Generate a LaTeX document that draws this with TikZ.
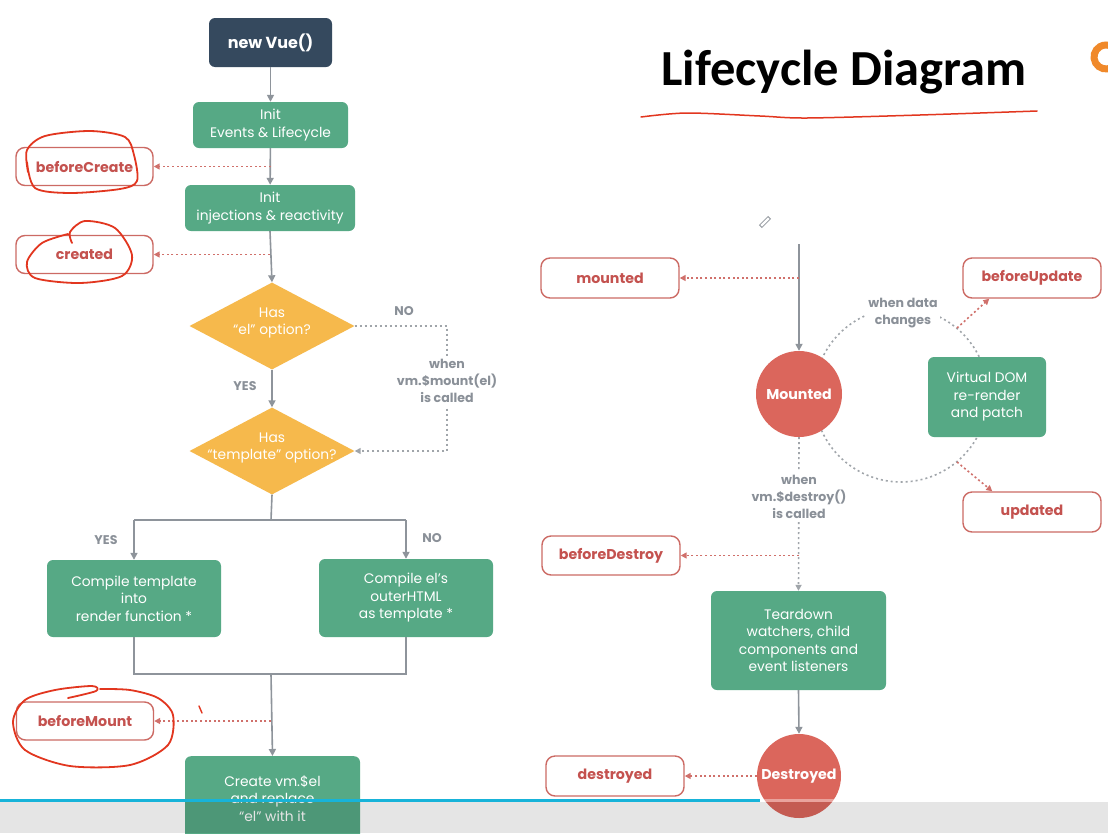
\documentclass[tikz,border=0pt]{standalone}
\usepackage{fontspec}
\setmainfont{Poppins}
\newfontfamily\titlefont{Carlito}
\usetikzlibrary{shapes.geometric,arrows.meta,calc}
\definecolor{vgreen}{HTML}{56A985}
\definecolor{vdark}{HTML}{35495E}
\definecolor{vorange}{HTML}{F6B94C}
\definecolor{vred}{HTML}{DB665C}
\definecolor{hookred}{HTML}{CC6A64}
\definecolor{hooktext}{HTML}{C4524F}
\definecolor{dotred}{HTML}{D0706B}
\definecolor{flowgrey}{HTML}{8E949B}
\definecolor{dotgrey}{HTML}{A0A5AA}
\definecolor{lblgrey}{HTML}{8A9098}
\definecolor{penred}{HTML}{E2361F}
\definecolor{vblue}{HTML}{17B3D9}
\definecolor{logoorange}{HTML}{F0892A}
\begin{document}
\begin{tikzpicture}[x=1pt,y=-1pt,
  gbox/.style={rectangle, rounded corners=6pt, fill=vgreen, text=white, align=center,
    font=\fontsize{13.8}{17.5}\selectfont, inner sep=2pt},
  darkbox/.style={rectangle, rounded corners=6pt, fill=vdark, text=white,
    font=\bfseries\fontsize{16}{18}\selectfont, minimum width=123pt, minimum height=49pt},
  hookbox/.style={rectangle, rounded corners=9pt, draw=hookred, line width=1.4pt, fill=white,
    text=hooktext, font=\bfseries\fontsize{14.2}{16}\selectfont, minimum width=137pt, minimum height=38pt},
  dia/.style={diamond, fill=vorange, minimum width=165pt, minimum height=87pt, inner sep=0pt},
  diatext/.style={text=white, align=center, font=\fontsize{13.8}{17}\selectfont},
  circ/.style={circle, fill=vred, text=white, font=\bfseries\fontsize{14.2}{16}\selectfont, inner sep=0pt},
  lbl/.style={text=lblgrey, font=\bfseries\fontsize{12.6}{17}\selectfont, align=center},
  flow/.style={draw=flowgrey, line width=1.6pt},
  flowarrow/.style={flow, -{Triangle[length=7pt,width=7pt]}},
  hookarrow/.style={draw=dotred, line width=1.6pt, dash pattern=on 2pt off 2.6pt, -{Triangle[length=6pt,width=6pt]}},
  cycdot/.style={draw=dotgrey, line width=1.6pt, dash pattern=on 2pt off 3pt},
  cycarrow/.style={cycdot, -{Triangle[length=6pt,width=6pt]}},
  scribble/.style={draw=penred, line width=1.8pt, line cap=round, line join=round},
]
\useasboundingbox (0,0) rectangle (1108,833);
\fill[white] (0,0) rectangle (1108,833);

% cycle circle (behind)
\draw[cycdot] (901,395) circle (87);

% ---------- left column nodes ----------
\node[darkbox] (vue) at (270.5,42.5) {new Vue()};
\node[gbox, minimum width=155pt, minimum height=46pt] (init1) at (270.5,125) {Init\\Events \& Lifecycle};
\node[hookbox] (bc) at (84.5,166.5) {beforeCreate};
\node[gbox, minimum width=170pt, minimum height=46pt] (init2) at (270,208) {Init\\injections \& reactivity};
\node[hookbox] (cr) at (84.5,254.5) {created};
\node[dia] (d1) at (272,326) {};
\node[diatext] (d1t) at (272,323) {Has\\“el” option?};
\node[dia] (d2) at (272,451) {};
\node[diatext] (d2t) at (272,448) {Has\\“template” option?};
\node[gbox, minimum width=174pt, minimum height=77pt] (ct) at (134,598.5) {Compile template\\into\\render function *};
\node[gbox, minimum width=174pt, minimum height=78pt] (ce) at (406,598) {Compile el’s\\outerHTML\\as template *};
\node[hookbox] (bm) at (85,721) {beforeMount};
\node[gbox, minimum width=175pt, minimum height=84pt, anchor=north] (cv) at (272.5,756) {Create vm.\$el\\and replace\\“el” with it};

% ---------- right column nodes ----------
\coordinate (rtop) at (799,244);
\node[hookbox, minimum width=138pt, minimum height=40pt] (mtd) at (610,278) {mounted};
\node[circ, minimum size=86pt] (mc) at (799,394) {Mounted};
\node[gbox, minimum width=118pt, minimum height=80pt] (vd) at (987,397) {Virtual DOM\\re-render\\and patch};
\node[hookbox, minimum width=138pt, minimum height=40pt] (bu) at (1032,278) {beforeUpdate};
\node[hookbox, minimum width=138pt, minimum height=40pt] (ud) at (1032,512) {updated};
\node[hookbox, minimum width=138pt, minimum height=39pt] (bd) at (611,555.5) {beforeDestroy};
\node[gbox, minimum width=175pt, minimum height=99pt] (td) at (798.5,640.5) {Teardown\\watchers, child\\components and\\event listeners};
\node[circ, minimum size=84pt] (dc) at (799,776) {Destroyed};
\node[hookbox, minimum width=138pt, minimum height=40pt] (ds) at (615,776) {destroyed};

% ---------- left connectors ----------
\draw[flowarrow] (vue) -- (init1);
\draw[flowarrow] (init1) -- (init2);
\draw[flowarrow] (init2.south) -- (d1.north);
\draw[flowarrow] (d1.south) -- (d2.north);
\draw[hookarrow] (init1.south |- bc.east) -- (bc.east);
\draw[hookarrow] (init2.south |- cr.east) -- (cr.east);
\coordinate (c1) at (447,326);
\coordinate (c2) at (447,451);
\draw[cycarrow] (d1.east) -- (c1) -- (c2) -- (d2.east);
\coordinate (split) at (271,520);
\draw[flow] (d2.south) -- (split);
\draw[flow] (ct.north |- split) -- (ce.north |- split);
\draw[flowarrow] (ct.north |- split) -- (ct.north);
\draw[flowarrow] (ce.north |- split) -- (ce.north);
\coordinate (join) at (271,674);
\draw[flow] (ct.south) -- (ct.south |- join) -- (ce.south |- join) -- (ce.south);
\draw[flowarrow] (join) -- (cv.north);
\draw[hookarrow] (join |- bm.east) -- (bm.east);

% ---------- right connectors ----------
\draw[flowarrow] (rtop) -- (mc.north);
\draw[hookarrow] (rtop |- mtd.east) -- (mtd.east);
\coordinate (bu0) at (957,328);
\coordinate (ud0) at (957,462);
\draw[hookarrow] (bu0) -- ($(bu.south west)+(27,0)$);
\draw[hookarrow] (ud0) -- ($(ud.north west)+(30,0)$);
\draw[cycarrow] (mc.south) -- (td.north);
\draw[hookarrow] (mc.south |- bd.east) -- (bd.east);
\draw[flowarrow] (td.south) -- (dc.north);
\draw[hookarrow] (dc.west) -- (ds.east);

% ---------- labels ----------
\node[lbl] (no1) at (404,311) {NO};
\node[lbl] (yes1) at (245,386) {YES};
\node[lbl, fill=white, inner sep=3pt] (mountlbl) at (447,381) {when\\vm.\$mount(el)\\is called};
\node[lbl] (yes2) at (106,540) {YES};
\node[lbl] (no2) at (432,538) {NO};
\node[lbl, fill=white, inner sep=2pt] (chg) at (903,313) {when data\\changes};
\node[lbl, fill=white, inner sep=3pt] (destlbl) at (799,497) {when\\vm.\$destroy()\\is called};

% ---------- title ----------
\node[font=\titlefont\bfseries\fontsize{50.5}{52}\selectfont, text=black] (title) at (844,72) {Lifecycle Diagram};
\draw[scribble, line width=1.5pt] plot[smooth] coordinates {(641,117) (687,113) (760,116) (807,118) (920,115) (1037,111)};
\draw[logoorange, line width=7pt] (1106,57) ++(60:12) arc[start angle=60, end angle=300, radius=12];

% pencil cursor
\draw[flowgrey, line width=0.8pt, rotate around={-45:(765,222)}] (763.3,216) rectangle (766.7,228);

% ---------- hand-drawn annotations ----------
\draw[scribble] plot[smooth] coordinates {(28,172) (27,150) (45,136) (90,131) (125,137) (134,155) (137,181) (120,189) (70,193) (35,188) (27,162)};
\draw[scribble] plot[smooth] coordinates {(72,243) (70,232) (85,221) (115,228) (132,255) (122,276) (80,283) (35,278) (27,262) (42,243) (68,234)};
\draw[scribble] plot[smooth] coordinates {(68,698) (96,691) (92,686) (55,690) (25,700) (13,722) (25,750) (70,766) (130,765) (168,745) (173,715) (158,698) (130,690) (100,689)};
\draw[scribble, line width=1.4pt] (199,706) -- (202,713);

% ---------- video bar ----------
\fill[black, opacity=0.1] (0,802) rectangle (1108,833);
\draw[vblue, line width=3pt] (0,800) -- (760,800);
\draw[white, opacity=0.4, line width=3pt] (760,800) -- (840,800);
\end{tikzpicture}
\end{document}
